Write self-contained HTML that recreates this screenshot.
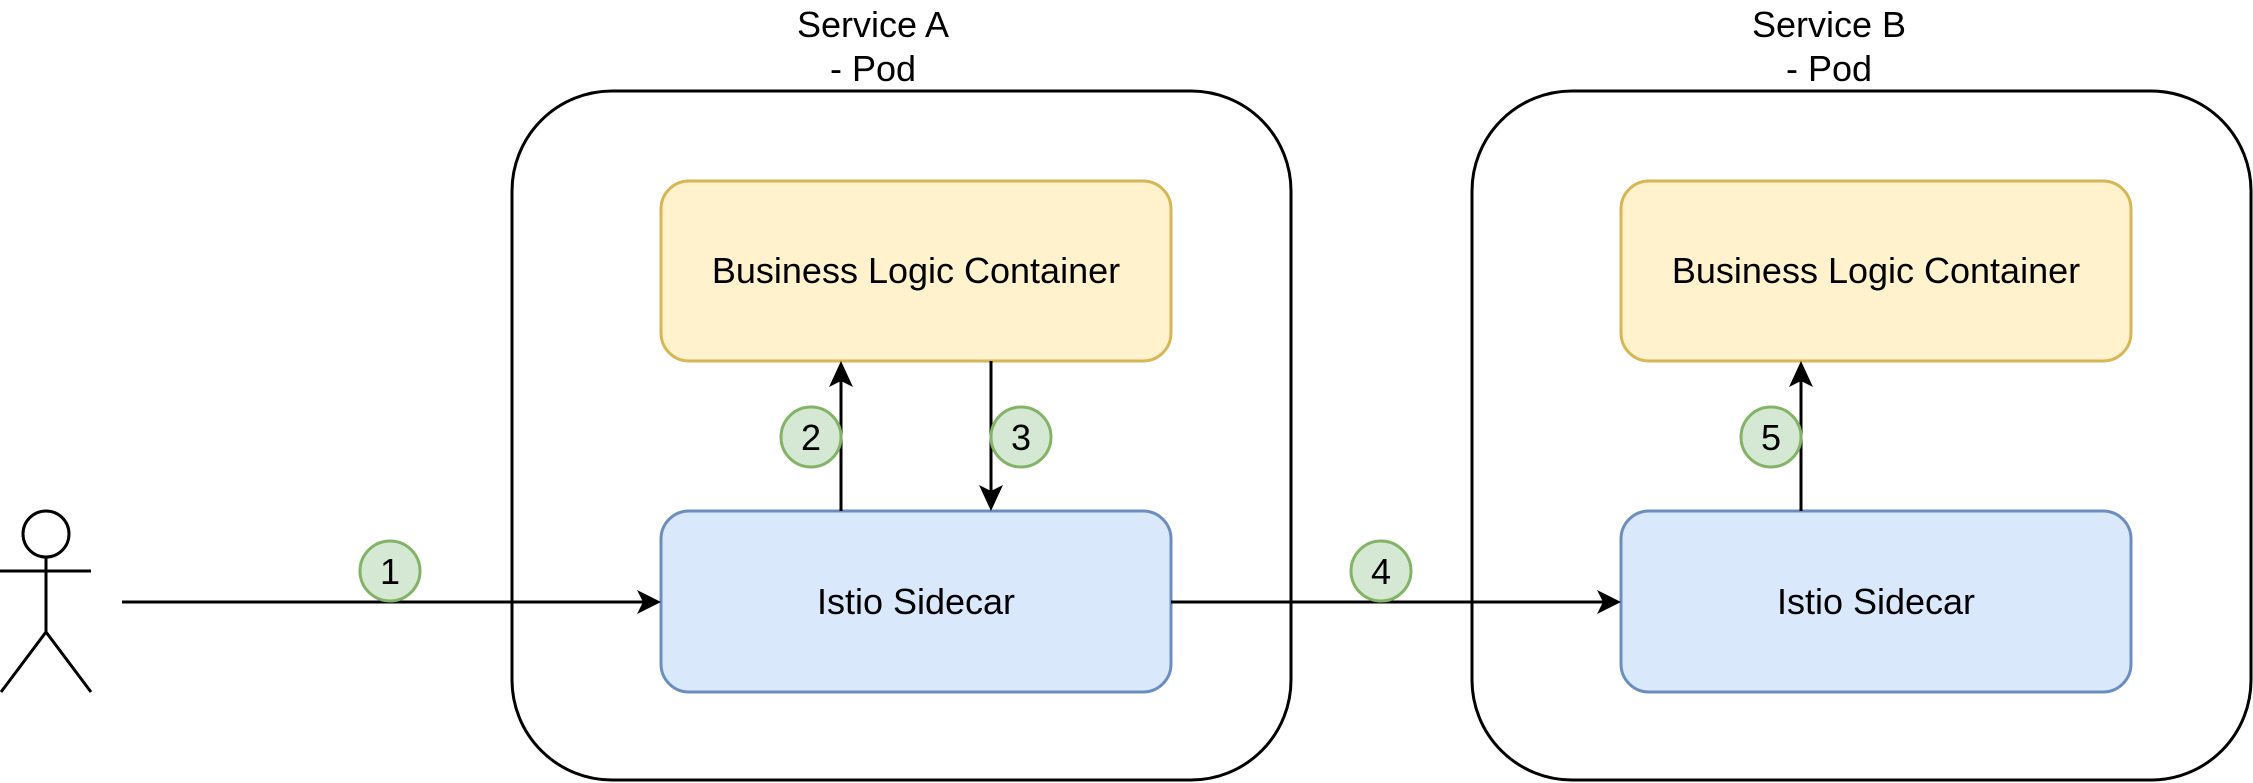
<!DOCTYPE html>
<html><head><meta charset="utf-8"><style>
html,body{margin:0;padding:0;background:#fff;}
svg{display:block;}
text{font-family:"Liberation Sans",Arial,sans-serif;fill:#000;}
</style></head><body>
<svg width="2253" height="783" viewBox="0 0 2253 783" xmlns="http://www.w3.org/2000/svg">
<!-- Pods -->
<rect x="512" y="91" width="779" height="689" rx="100" ry="100" fill="#fff" stroke="#000" stroke-width="3"/>
<rect x="1472" y="91" width="779" height="689" rx="100" ry="100" fill="#fff" stroke="#000" stroke-width="3"/>
<text x="873" y="37" font-size="36" text-anchor="middle">Service A</text>
<text x="873" y="81" font-size="36" text-anchor="middle">- Pod</text>
<text x="1829" y="37" font-size="36" text-anchor="middle">Service B</text>
<text x="1829" y="81" font-size="36" text-anchor="middle">- Pod</text>
<!-- Boxes -->
<rect x="661" y="181" width="510" height="180" rx="28" fill="#fff2cc" stroke="#d6b656" stroke-width="3"/>
<rect x="661" y="511" width="510" height="181" rx="28" fill="#dae8fc" stroke="#6c8ebf" stroke-width="3"/>
<rect x="1621" y="181" width="510" height="180" rx="28" fill="#fff2cc" stroke="#d6b656" stroke-width="3"/>
<rect x="1621" y="511" width="510" height="181" rx="28" fill="#dae8fc" stroke="#6c8ebf" stroke-width="3"/>
<text x="916" y="283" font-size="36" text-anchor="middle">Business Logic Container</text>
<text x="916" y="614" font-size="36" text-anchor="middle">Istio Sidecar</text>
<text x="1876" y="283" font-size="36" text-anchor="middle">Business Logic Container</text>
<text x="1876" y="614" font-size="36" text-anchor="middle">Istio Sidecar</text>
<!-- Actor -->
<g stroke="#000" stroke-width="3" fill="none">
<ellipse cx="46" cy="534" rx="23" ry="23" fill="#fff"/>
<line x1="46" y1="557" x2="46" y2="632"/>
<line x1="0" y1="571" x2="91" y2="571"/>
<line x1="46" y1="632" x2="1" y2="692"/>
<line x1="46" y1="632" x2="91" y2="692"/>
</g>
<!-- Connectors -->
<g stroke="#000" stroke-width="3">
<line x1="122" y1="602" x2="648" y2="602"/>
<line x1="1171" y1="602" x2="1608" y2="602"/>
<line x1="841" y1="511" x2="841" y2="374"/>
<line x1="991" y1="361" x2="991" y2="498"/>
<line x1="1801" y1="511" x2="1801" y2="374"/>
</g>
<g fill="#000">
<polygon points="661,602 637,590 643,602 637,614"/>
<polygon points="1621,602 1597,590 1603,602 1597,614"/>
<polygon points="841,361 829,387 841,381 853,387"/>
<polygon points="991,511 979,485 991,491 1003,485"/>
<polygon points="1801,361 1789,387 1801,381 1813,387"/>
</g>
<!-- Step circles -->
<g fill="#d5e8d4" stroke="#82b366" stroke-width="3">
<circle cx="390" cy="571" r="30"/>
<circle cx="811" cy="437" r="30"/>
<circle cx="1021" cy="437" r="30"/>
<circle cx="1381" cy="571" r="30"/>
<circle cx="1771" cy="437" r="30"/>
</g>
<g font-size="36" text-anchor="middle">
<text x="390" y="584">1</text>
<text x="811" y="450">2</text>
<text x="1021" y="450">3</text>
<text x="1381" y="584">4</text>
<text x="1771" y="450">5</text>
</g>
</svg>
</body></html>
